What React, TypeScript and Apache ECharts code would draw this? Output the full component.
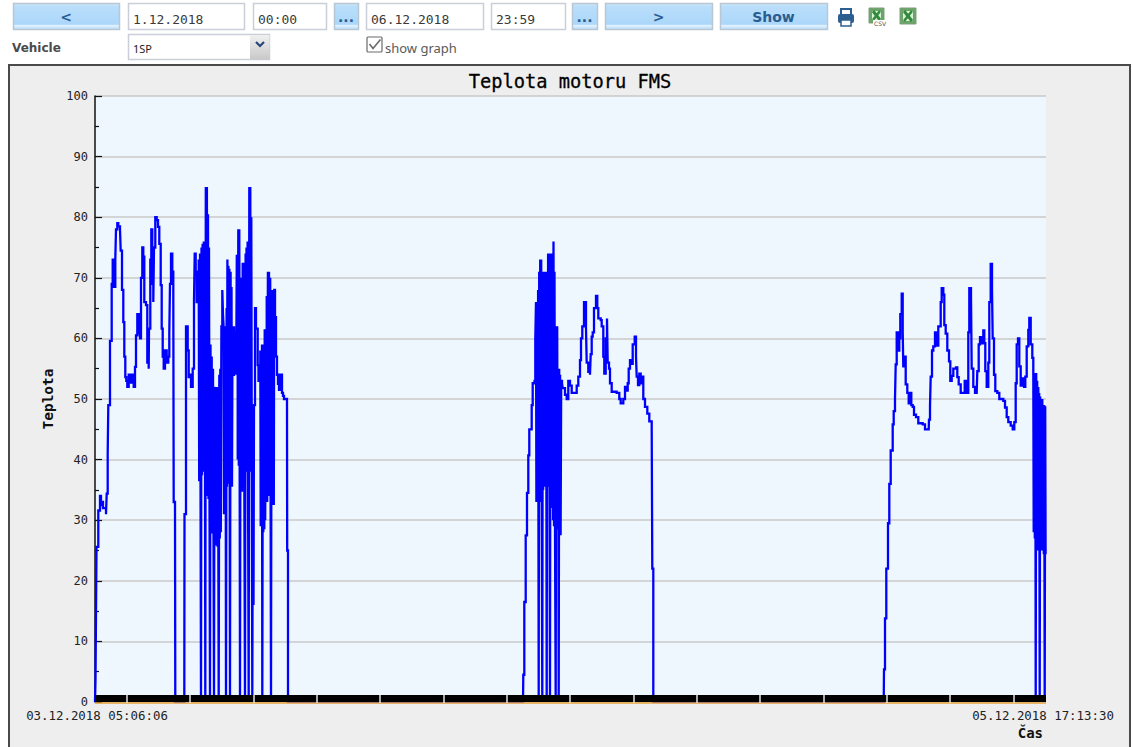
import React, { useEffect, useRef } from "react";
import * as echarts from "echarts";

type P = [number, number];

const chartTitle = "Teplota motoru FMS";
const yAxisName = "Teplota";
const xAxisName = "Čas";
const startLabel = "03.12.2018 05:06:06";
const endLabel = "05.12.2018 17:13:30";
const yMax = 100;
const sampleCount = 951;
const xLabelSamples = [2, 948];
const xTickSamples = [32, 95, 159, 222, 285, 349, 412, 475, 539, 602, 665, 729, 792, 855, 919];

const rideA: P[] = [
  [0, 0], [0.5, 3.6], [1, 14.6], [1.5, 25.6], [3.3, 31.6], [5, 34], [6, 32.5], [7, 33], [8, 32], [10, 32], [11, 31],
  [11.7, 34.4], [12.7, 41], [13.3, 49], [15, 59.6], [16.7, 69], [17.7, 73], [19, 68.5], [20.3, 73], [21, 78],
  [22.3, 79], [23.3, 78.5], [25, 78], [25.7, 74.5], [27, 68], [28.3, 62.7], [29.3, 57], [30.3, 53.6], [31.3, 53],
  [32.3, 52], [33.7, 54], [34.7, 53], [35.7, 52.7], [36.7, 54], [37.7, 54], [38.7, 52], [40, 55.3], [41, 60.5],
  [42.3, 64], [43.7, 60.7], [44.3, 63], [45, 60], [46, 70], [47.3, 75], [48.3, 73.5], [49.3, 66], [51, 65.5],
  [52.3, 56], [53.7, 55], [54, 61.6], [55.3, 73], [56.3, 78], [57.3, 69], [58.3, 66], [59, 75], [60.3, 80],
  [61.7, 79.5], [63, 78.4], [64.3, 75.6], [65.7, 68.8], [66.7, 61.6], [67.7, 57], [68.7, 55], [70, 58], [71.7, 56],
  [73.3, 57], [74.3, 61], [75, 69], [76, 74], [77.3, 71], [78.3, 67], [78.7, 33], [80, 33], [80.3, 0],
  [89.3, 0], [89.5, 31], [91, 62], [92.7, 58], [93.7, 53.6], [95, 54], [96, 52], [97.7, 55], [99, 66], [99.7, 74],
  [100.7, 71], [101.7, 66], [102.7, 71],
];
const burstA1: P[] = [
  [103.7, 73], [104.2, 36.6], [105, 74], [105.5, 38], [106, 0], [106.5, 75], [107, 37.4], [107.6, 75.6], [108.1, 38],
  [108.8, 76], [109.3, 39], [110, 42], [110.3, 0], [110.8, 85], [111.3, 42], [111.9, 85], [112.4, 34], [113, 80.5],
  [113.5, 33.5], [114, 75], [114.5, 33], [115, 0], [115.5, 59], [116, 31], [116.7, 57], [117.2, 28], [118, 55],
  [118.5, 27.5], [119, 0], [119.5, 52], [120, 26.5], [120.7, 52], [121.2, 26], [122, 51.5], [122.5, 25.6], [123, 52],
  [123.7, 0], [124.3, 54], [124.8, 27], [125.3, 55], [125.8, 28], [126.4, 62], [127.3, 68], [128, 64], [128.6, 62],
];
const burstA2: P[] = [
  [129, 31], [129.5, 62], [130, 33], [130.6, 61], [131, 0], [131.6, 65], [132, 35.5], [132.4, 73], [132.9, 36],
  [133.4, 72], [133.9, 36], [134.4, 71.5], [135, 0], [135.6, 71], [136, 35.5], [136.5, 68.5], [137, 35.5], [137.5, 62],
  [138, 54], [139, 62], [139.5, 55], [140.3, 60], [140.8, 54], [141.3, 58], [141.8, 73.6],
];
const burstA3: P[] = [
  [142.7, 40], [143.3, 78], [143.8, 39], [144.3, 78], [145, 0], [145.6, 70], [146, 35], [146.5, 70], [147, 34.7],
  [147.7, 72.5], [148.2, 37], [148.8, 72.5], [149.3, 37], [150, 0], [150.6, 74], [151, 38], [151.5, 75], [152, 38],
  [152.6, 76], [153, 38], [153.7, 0], [154.3, 85], [154.8, 38], [155.3, 85], [155.8, 38], [156.3, 80], [156.8, 38],
  [157.3, 0], [158, 49], [158.5, 16], [159, 49], [160, 65], [161, 61.6], [162.7, 55.6], [163.5, 53], [164.5, 54],
  [165.3, 58], [165.7, 29], [166, 58], [166.5, 29], [167, 59], [167.3, 0], [167.9, 59], [168.3, 28], [168.8, 59],
  [169.3, 28.5], [169.7, 61.5], [170.2, 30], [170.7, 58], [171.2, 58], [171.7, 67], [172.2, 33], [172.9, 71],
  [173.4, 34], [174, 71], [174.5, 34], [175.2, 70], [175.6, 34], [176, 0], [176.6, 68], [177, 33], [177.5, 66],
  [178, 32.5], [178.4, 68], [178.8, 32.5], [179.2, 68],
];
const rideAEnd: P[] = [
  [180, 63.5], [181, 57], [182, 54], [183, 52.5], [184, 51.5], [185, 54], [186, 54], [187, 51], [188, 50.5],
  [189, 50], [190, 50], [192, 50], [192.2, 25], [192.7, 25], [193, 0],
];

const rideB: P[] = [
  [428, 0], [428.3, 4.5], [429.3, 16.5], [430.7, 27.5], [432, 34.5], [433.3, 40.7], [434.3, 45], [436.7, 49],
  [437.7, 52.6], [439.5, 53], [440.3, 60],
];
const burstB: P[] = [
  [441, 66], [441.4, 33], [442, 66], [442.5, 33], [443.1, 68], [443.7, 0], [444.2, 71], [444.6, 33], [445.2, 73],
  [445.6, 34.5], [446.2, 73], [446.7, 34.5], [447.3, 0], [447.8, 71], [448.2, 35], [448.8, 71], [449.3, 35.5],
  [450, 71], [450.5, 35.5], [451.1, 71], [451.7, 0], [452.2, 71], [452.6, 35.5], [453.1, 74], [453.5, 37], [454.1, 74],
  [454.5, 37], [455, 0], [455.5, 74], [455.9, 34], [456.5, 71], [457, 32], [457.6, 74], [458.1, 30], [458.5, 76],
  [459, 29], [459.5, 71], [460, 29], [460.7, 0], [461.2, 62], [461.6, 28.6], [462.2, 62], [462.7, 28.5], [463.2, 55],
  [463.7, 0], [464.2, 55], [464.6, 28], [465.1, 54], [465.6, 27.5], [466.2, 53],
];
const rideBEnd: P[] = [
  [467, 52.6], [467.7, 51.8], [470, 50.7], [471.7, 50], [473.3, 53], [475, 52.2], [476.7, 51], [480, 51], [481.7, 52.2],
  [483.3, 53.7], [485, 56.4], [486, 60], [487.3, 62], [489, 66], [491, 61.6], [491.7, 56], [493.3, 54.5], [495, 54],
  [495.7, 57.4], [496.7, 60.3], [497.7, 61], [499, 65], [501, 67], [502.3, 65], [503.3, 63.3], [505.7, 63],
  [506.7, 62], [508.3, 57], [509.3, 54.2], [510.7, 60], [512, 63.3], [512.7, 56], [514, 55], [515, 52.6], [516.7, 51.2],
  [521.7, 51], [524.3, 50], [525.7, 49.3], [528.3, 50], [530, 52], [531.7, 51.4], [532.7, 52.6], [533.7, 55],
  [535, 56.4], [536.7, 55.8], [537.7, 59], [539.7, 60.3], [541, 57], [541.7, 53.7], [543, 52.3], [544.3, 54.2],
  [545.7, 52.6], [547, 53.7], [548.3, 50], [550, 48.7], [552.3, 47.6], [554.3, 46.3], [556.7, 45.4], [557.3, 22],
  [558, 22], [558.3, 0],
];

const rideC: P[] = [
  [788.7, 0], [789, 5.4], [790, 13.8], [791.3, 22], [793, 29.5], [794.3, 36], [795.7, 41.5], [797.7, 45.8], [798.7, 48],
  [800, 50], [800.7, 55.7], [801.7, 61], [803, 58], [804.3, 60], [805.3, 64], [806.7, 67.4], [807.7, 61], [808.3, 55.4],
  [809.7, 57], [810.7, 52.4], [812.3, 51], [813.7, 49.3], [815, 51], [816.3, 49], [817.7, 48.7], [819, 47.4], [821, 47],
  [823.3, 46], [827.7, 45.8], [830, 45], [833.7, 45], [834, 46.6], [835, 48.8], [835.7, 53.7], [837, 58], [838.3, 58.7],
  [840, 61], [841.7, 58.8], [843.3, 62], [845.7, 66], [846.7, 68.3], [848.3, 67.2], [849.3, 62.2], [850.7, 60.8],
  [852.3, 58], [854, 56.2], [855.3, 53], [856.7, 53.8], [858.3, 55], [861, 55.2], [862.3, 53.6], [863.7, 52.4],
  [865.7, 51], [868.3, 51], [869.7, 53], [871, 52.4], [872, 51], [873.3, 61], [874.3, 68.3], [876, 66.7], [876.7, 55],
  [878.3, 52], [880, 51], [881.7, 51], [882.3, 54.6], [883.7, 59], [885, 60.2], [886.7, 59.2], [888.3, 61.3], [889.3, 59.2],
  [890.3, 54.6], [891.7, 52], [893.3, 56], [894.3, 66], [895.7, 72.3], [897, 68], [897.7, 60], [899, 54], [900.3, 51.3],
  [902.3, 51], [904.3, 50], [908.3, 49.7], [910, 48.6], [911.7, 47], [913.3, 46.2], [915.7, 45.6], [917.7, 45],
  [919.3, 46.2], [920.7, 52.6], [921.7, 59], [923, 60], [924.3, 55.4], [925.7, 52.2], [927.7, 53.4], [929, 52],
  [930.3, 53.7], [931.7, 58.7], [933.3, 61.4], [934.3, 63.4], [935.7, 59], [937.3, 56.8],
];
const burstC: P[] = [
  [938.3, 54.3], [938.7, 28], [939.3, 54.3], [939.8, 27], [940.3, 54.3], [940.7, 0], [941.2, 54.3], [941.6, 25],
  [942.2, 53], [942.7, 25], [943.3, 52], [943.8, 25], [944.2, 51], [944.7, 0], [945.2, 50.4], [945.6, 25],
  [946.2, 50], [946.7, 25], [947.3, 50], [947.8, 25], [948.3, 49], [948.8, 24.4], [949.2, 49], [949.7, 0],
  [950.2, 48.8], [950.6, 24.4], [951, 24.4],
];

const temperature: P[] = [
  ...rideA, ...burstA1, ...burstA2, ...burstA3, ...rideAEnd, ...rideB, ...burstB, ...rideBEnd, ...rideC, ...burstC,
];

const MONO = '"DejaVu Sans Mono", monospace';
const BLUE_TEXT = "#2a5d8f";

const txt = (text: string, x: number, y: number, font: string, fill: string, align = "left") => ({
  type: "text",
  x,
  y,
  z: 1,
  style: { text, font, fill, textAlign: align, verticalAlign: "middle" },
});

const button = (x: number, y: number, w: number, h: number, label: string) => [
  {
    type: "rect",
    z: 0,
    shape: { x: x + 0.5, y: y + 0.5, width: w, height: h },
    style: {
      fill: new echarts.graphic.LinearGradient(0, 0, 0, 1, [
        { offset: 0, color: "#cfe8fc" },
        { offset: 0.12, color: "#b9defb" },
        { offset: 0.8, color: "#acd7fa" },
        { offset: 0.84, color: "#e3f2fe" },
        { offset: 1, color: "#b5dcfb" },
      ]),
      stroke: "#b9c6d3",
      lineWidth: 1.5,
    },
  },
  txt(label, x + w / 2, y + h / 2 + 0.5, 'bold 14px "DejaVu Sans"', BLUE_TEXT, "center"),
];

const input = (x: number, w: number, label: string) => [
  {
    type: "rect",
    z: 0,
    shape: { x: x + 0.5, y: 3.5, width: w, height: 26 },
    style: { fill: "#ffffff", stroke: "#c9ced8", lineWidth: 1.5 },
  },
  txt(label, x + 5, 19.5, "13px " + MONO, "#3a3a3a"),
];

const xlsIcon = (x: number, y: number, s: number) => [
  { type: "rect", z: 0, shape: { x, y, width: s, height: s }, style: { fill: "#6aa469", stroke: "#7c9f7c", lineWidth: 1 } },
  { type: "rect", z: 0, shape: { x: x + 3, y: y + 3, width: s - 6, height: s - 6 }, style: { fill: "#dcefd8" } },
  { type: "line", z: 1, shape: { x1: x + 4, y1: y + 3, x2: x + s - 4, y2: y + s - 3 }, style: { stroke: "#2f8a3c", lineWidth: 3 } },
  { type: "line", z: 1, shape: { x1: x + s - 4, y1: y + 3, x2: x + 4, y2: y + s - 3 }, style: { stroke: "#2f8a3c", lineWidth: 2.5 } },
];

const pageGraphics = [
  { type: "rect", z: -10, shape: { x: 9, y: 65, width: 1121, height: 690 }, style: { fill: "#eeeeee", stroke: "#4a4a4a", lineWidth: 2 } },
  ...button(13, 3, 106, 26, "<"),
  ...input(128, 116, "1.12.2018"),
  ...input(253, 73, "00:00"),
  ...button(334, 3, 24, 26, "..."),
  ...input(366, 117, "06.12.2018"),
  ...input(491, 74, "23:59"),
  ...button(572, 3, 25, 26, "..."),
  ...button(605, 3, 107, 26, ">"),
  ...button(720, 3, 107, 26, "Show"),
  // printer
  { type: "rect", z: 0, shape: { x: 841, y: 9, width: 10, height: 6 }, style: { fill: "#ffffff", stroke: "#2c5f8f", lineWidth: 2 } },
  { type: "rect", z: 0, shape: { x: 838, y: 14, width: 16, height: 9, r: 2 }, style: { fill: "#2c5f8f" } },
  { type: "rect", z: 1, shape: { x: 841, y: 20, width: 10, height: 6 }, style: { fill: "#ffffff", stroke: "#2c5f8f", lineWidth: 1.5 } },
  ...xlsIcon(869, 8, 15),
  { type: "rect", z: 1, shape: { x: 873, y: 20, width: 13, height: 6 }, style: { fill: "#ffffff" } },
  { ...txt("CSV", 880, 23, '6px "DejaVu Sans"', "#555555", "center"), z: 2 },
  ...xlsIcon(900, 8, 16),
  // vehicle row
  txt("Vehicle", 12, 47.5, 'bold 12px "DejaVu Sans"', "#4a4a4a"),
  { type: "rect", z: 0, shape: { x: 128.5, y: 34.5, width: 141, height: 25 }, style: { fill: "#ffffff", stroke: "#c9ced8", lineWidth: 1.5 } },
  {
    type: "rect",
    z: 0,
    shape: { x: 250, y: 35, width: 19.5, height: 24.5 },
    style: {
      fill: new echarts.graphic.LinearGradient(0, 0, 0, 1, [
        { offset: 0, color: "#f0f0f0" },
        { offset: 1, color: "#c8c8c8" },
      ]),
    },
  },
  { type: "polyline", z: 1, shape: { points: [[256, 42], [260, 46], [264, 42]] }, style: { stroke: "#26457a", lineWidth: 2.2, fill: "none" } },
  txt("1SP", 133, 48.5, '11px "Noto Sans"', "#222222"),
  { type: "rect", z: 0, shape: { x: 367, y: 37, width: 15, height: 15, r: 1 }, style: { fill: "#ffffff", stroke: "#6a6a6a", lineWidth: 1.2 } },
  { type: "polyline", z: 1, shape: { points: [[369.5, 44], [373, 48.5], [380.5, 39.5]] }, style: { stroke: "#6a6a6a", lineWidth: 1.6, fill: "none" } },
  txt("show graph", 385, 47.5, '13px "Noto Sans"', "#5a5a5a"),
];

export default function App() {
  const ref = useRef<HTMLDivElement>(null);
  useEffect(() => {
    const chart = echarts.init(ref.current!, undefined, { renderer: "svg" });
    chart.setOption({
      animation: false,
      backgroundColor: "#ffffff",
      title: {
        text: chartTitle,
        left: 565,
        top: 67,
        textAlign: "center",
        textStyle: { fontFamily: MONO, fontSize: 18.7, fontWeight: "normal", color: "#000000", textBorderColor: "#000000", textBorderWidth: 0.3 },
      },
      grid: { left: 95, top: 96, width: sampleCount, height: 606, show: true, backgroundColor: "#eef7fe", borderWidth: 0 },
      graphic: pageGraphics,
      xAxis: [
        {
          type: "value",
          min: 0,
          max: sampleCount,
          position: "bottom",
          offset: -3.5,
          z: 5,
          name: xAxisName,
          nameLocation: "end",
          nameGap: 0,
          nameTextStyle: {
            align: "right",
            verticalAlign: "top",
            padding: [27, 3, 0, 0],
            fontFamily: MONO,
            fontSize: 14,
            fontWeight: "bold",
            color: "#111111",
          },
          axisLine: { show: true, onZero: false, lineStyle: { color: "#000000", width: 7, cap: "butt" } },
          axisTick: { show: false },
          axisLabel: {
            show: true,
            customValues: xLabelSamples,
            margin: 11,
            fontFamily: MONO,
            fontSize: 12.4,
            color: "#222222",
            formatter: (v: number) => (v === xLabelSamples[0] ? startLabel : endLabel),
          },
          splitLine: { show: false },
        },
        {
          type: "value",
          min: 0,
          max: sampleCount,
          position: "bottom",
          offset: 1,
          z: 6,
          axisLine: { show: true, onZero: false, lineStyle: { color: "#e8a33a", width: 1.5, cap: "butt" } },
          axisTick: { show: true, inside: true, length: 8, customValues: xTickSamples, lineStyle: { color: "#e6e6e6", width: 1.5 } },
          axisLabel: { show: false },
          splitLine: { show: false },
        },
      ],
      yAxis: {
        type: "value",
        min: 0,
        max: yMax,
        interval: 10,
        name: yAxisName,
        nameLocation: "middle",
        nameGap: 29,
        nameTextStyle: { fontFamily: MONO, fontSize: 14.5, fontWeight: "bold", color: "#111111" },
        axisLine: { show: true, onZero: false, lineStyle: { color: "#111111", width: 1.5 } },
        axisTick: { show: true, inside: true, length: 7, lineStyle: { color: "#111111", width: 1.2 } },
        minorTick: { show: true, splitNumber: 2, length: 4, lineStyle: { color: "#111111", width: 1.2 } },
        axisLabel: { margin: 7, fontFamily: MONO, fontSize: 12, color: "#222222" },
        splitLine: { show: true, lineStyle: { color: "#c8c8c8", width: 1.5 } },
        minorSplitLine: { show: false },
      },
      series: [
        {
          type: "line",
          xAxisIndex: 0,
          data: temperature,
          step: "end",
          showSymbol: false,
          symbol: "none",
          lineStyle: { color: "#0000ff", width: 2.3, join: "miter" },
        },
      ],
    });
    return () => chart.dispose();
  }, []);
  return <div ref={ref} style={{ position: "fixed", left: 0, top: 0, width: 1133, height: 747 }} />;
}
